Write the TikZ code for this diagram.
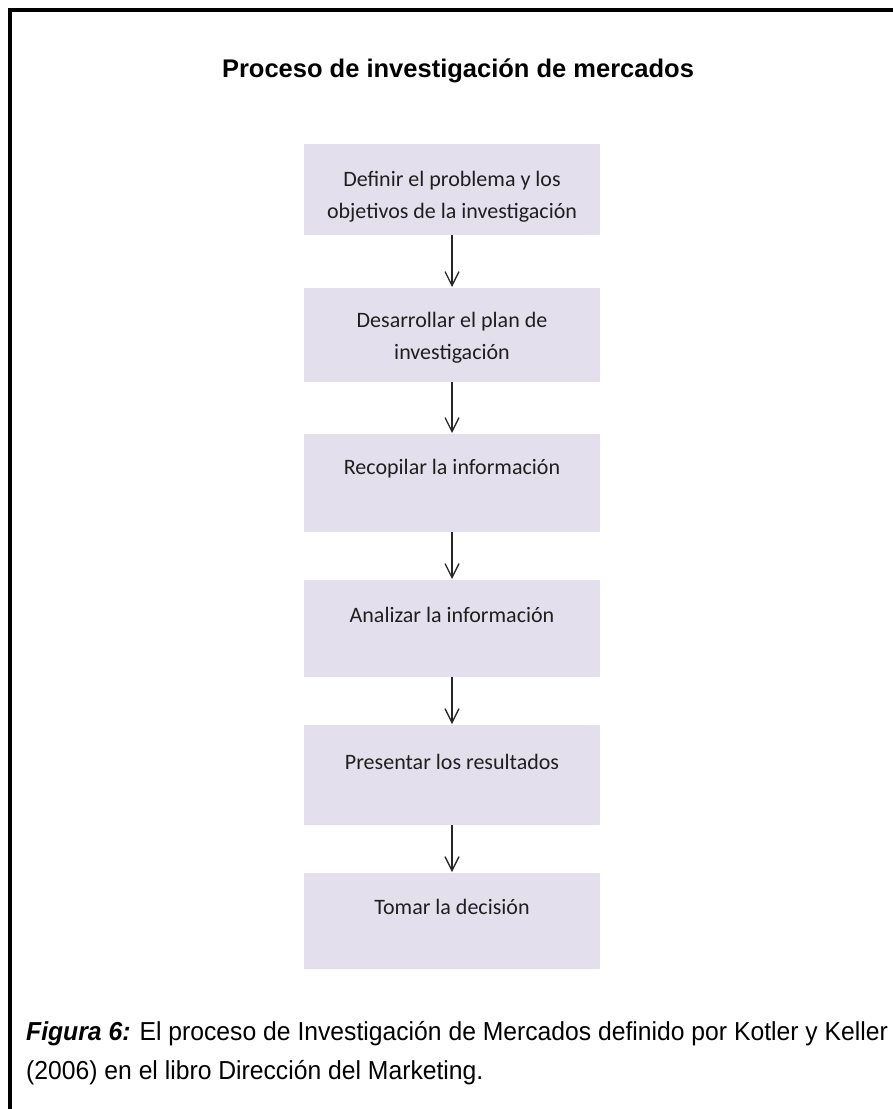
\documentclass[tikz,border=0pt]{standalone}
\usepackage{fontspec}
\setmainfont{Liberation Sans}
\newfontfamily\boxfont{Carlito}
\newfontfamily\capfont[FakeStretch=0.95]{Liberation Sans}
\usetikzlibrary{arrows.meta}
\definecolor{boxfill}{HTML}{E4DFEC}
\tikzset{
  stepbox/.style={fill=boxfill, draw=none, minimum width=296pt, minimum height=94pt, anchor=north, inner sep=0pt},
  boxtext/.style={font=\boxfont\fontsize{22}{32}\selectfont, text=black!88, align=center, anchor=base, inner sep=0pt},
  flow/.style={-{Straight Barb[length=14pt,width=14pt,line width=1.3pt]}, line width=1.3pt, black!85, shorten >=1pt}
}
\begin{document}
\begin{tikzpicture}[x=1pt,y=-1pt]
\useasboundingbox (0,0) rectangle (893,1109);
\draw[line width=4pt] (10,1111) -- (10,10) -- (895,10);
\node[font=\bfseries\fontsize{25.5}{30}\selectfont, anchor=base, inner sep=0pt] (title) at (458,77) {Proceso de investigación de mercados};

\node[stepbox, minimum height=91pt] (b1) at (452,144) {};
\node[stepbox] (b2) at (452,288) {};
\node[stepbox, minimum height=98pt] (b3) at (452,434) {};
\node[stepbox, minimum height=97pt] (b4) at (452,580) {};
\node[stepbox, minimum height=100pt] (b5) at (452,725) {};
\node[stepbox, minimum height=96pt] (b6) at (452,873) {};

\node[boxtext] (t1) at (452,218) {Definir el problema y los\\objetivos de la investigación};
\node[boxtext] (t2) at (452,359) {Desarrollar el plan de\\investigación};
\node[boxtext] (t3) at (452,474) {Recopilar la información};
\node[boxtext] (t4) at (452,622) {Analizar la información};
\node[boxtext] (t5) at (452,769) {Presentar los resultados};
\node[boxtext] (t6) at (452,914) {Tomar la decisión};

\draw[flow] (b1.south) -- (b2.north);
\draw[flow] (b2.south) -- (b3.north);
\draw[flow] (b3.south) -- (b4.north);
\draw[flow] (b4.south) -- (b5.north);
\draw[flow] (b5.south) -- (b6.north);

\node[font=\capfont\fontsize{26}{39}\selectfont, align=left, anchor=base west, inner sep=0pt] (cap) at (26,1079)
  {\textbf{\textit{Figura 6:}} El proceso de Investigación de Mercados definido por Kotler y Keller\\(2006) en el libro Dirección del Marketing.};
\end{tikzpicture}
\end{document}
